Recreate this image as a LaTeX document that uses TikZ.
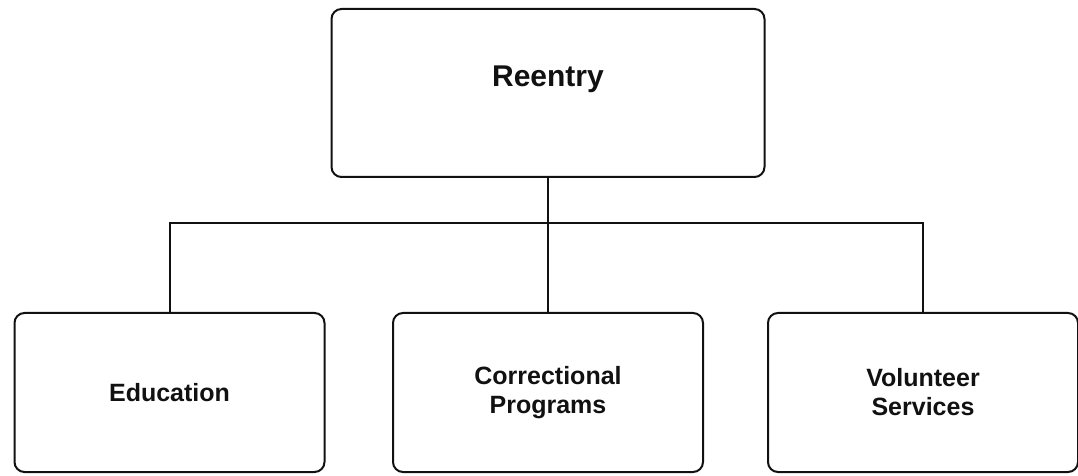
\documentclass[tikz,border=0pt]{standalone}
\usepackage{fontspec}
\setmainfont{Liberation Sans}
\usetikzlibrary{positioning, calc}
\definecolor{inkblack}{HTML}{111111}

\begin{document}
\begin{tikzpicture}[
    unitbox/.style={draw=inkblack, line width=1pt, rounded corners=5pt, inner sep=0pt, align=center, text=inkblack},
    headbox/.style={unitbox, minimum width=216.5pt, text height=39pt, text depth=45pt, font=\fontsize{15}{18}\selectfont\bfseries},
    childbox/.style={unitbox, minimum width=155pt, minimum height=79.5pt, font=\fontsize{12.5}{14.5}\selectfont\bfseries},
    link/.style={draw=inkblack, line width=1pt}
  ]
  \useasboundingbox (0,0) rectangle (539pt,-238pt);

  % Reentry
  \node[headbox] (reentry) at (274pt,-46.5pt) {Reentry};

  % Unidades
  \node[childbox] (education) at (84.75pt,-196.25pt) {Education};
  \node[childbox] (programs) at (274pt,-196.25pt) {Correctional\\Programs};
  \node[childbox] (volunteer) at (461.5pt,-196.25pt) {Volunteer\\Services};

  % Conectores
  \coordinate (bus) at ($(reentry.south) + (0,-22.5pt)$);
  \draw[link] (reentry.south) -- (programs.north);
  \draw[link] (education.north) |- (bus) -| (volunteer.north);
\end{tikzpicture}
\end{document}
